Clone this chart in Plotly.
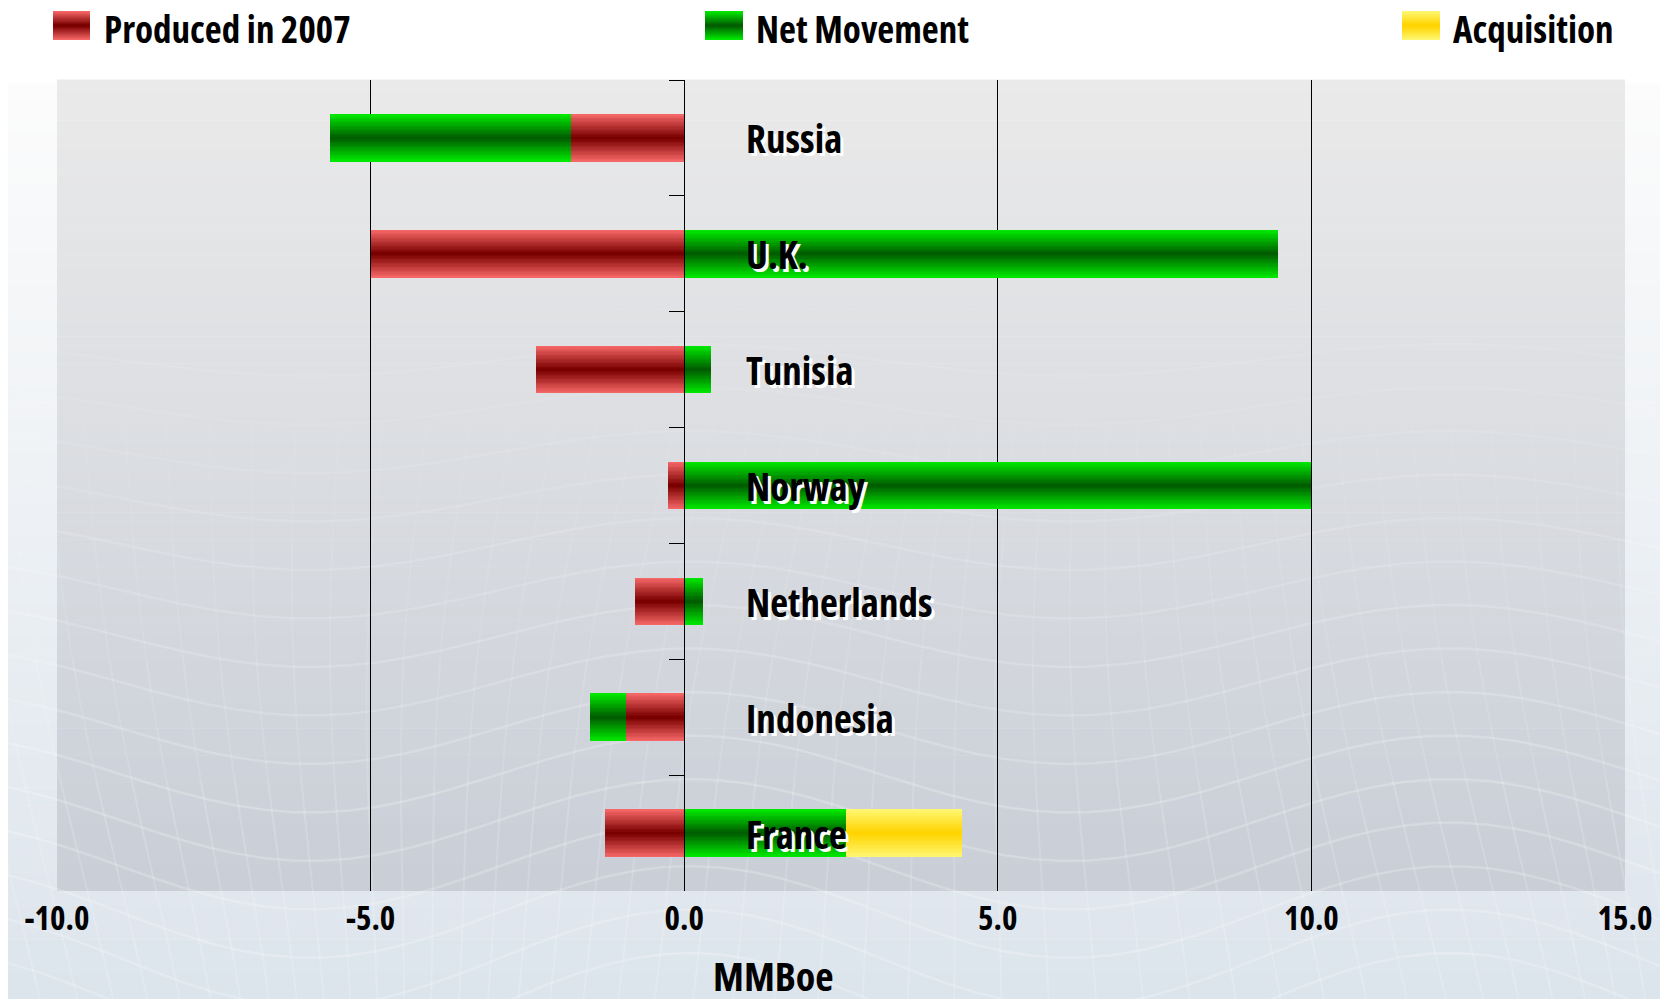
import math
import plotly.graph_objects as go

# ---------------- data ----------------
countries = ["Russia", "U.K.", "Tunisia", "Norway", "Netherlands", "Indonesia", "France"]
produced_2007 = [-1.8, -5.0, -2.36, -0.26, -0.79, -0.93, -1.27]
net_movement = [-3.85, 9.47, 0.43, 10.0, 0.30, -0.57, 2.58]
acquisition = [0, 0, 0, 0, 0, 0, 1.85]
series_names = ["Produced in 2007", "Net Movement", "Acquisition"]
x_ticks = [-10, -5, 0, 5, 10, 15]
x_tick_labels = ["-10.0", "-5.0", "0.0", "5.0", "10.0", "15.0"]
x_title = "MMBoe"

# ---------------- layout geometry (page pixels of the target) ----------------
W, H = 1668, 999
OFF = 8                       # the page body margin shifts the figure by 8px
PLOT_L, PLOT_R, PLOT_T, PLOT_B = 57, 1625, 80, 891
ML, MT = PLOT_L - OFF, PLOT_T - OFF
MR, MB = W - (PLOT_R - OFF), H - (PLOT_B - OFF)
PW, PH = PLOT_R - PLOT_L, PLOT_B - PLOT_T
FONT = "Open Sans"
COND = '<span style="font-stretch:75%%">%s</span>'

edge_center = {
    "Produced in 2007": ((245, 102, 102), (122, 0, 0)),
    "Net Movement": ((0, 232, 0), (0, 94, 0)),
    "Acquisition": ((255, 246, 112), (255, 212, 0)),
}


def lerp(c1, c2, t):
    return "rgb(%d,%d,%d)" % tuple(round(a + (b - a) * t) for a, b in zip(c1, c2))


def px_x(px):
    return (px - PLOT_L) / PW


def px_y(py):
    return (PLOT_B - py) / PH


fig = go.Figure()

# bases derived from the data
base_prod = [0] * len(countries)
base_net = [p if n < 0 else 0 for p, n in zip(produced_2007, net_movement)]
base_acq = [max(n, 0) for n in net_movement]
series_vals = [produced_2007, net_movement, acquisition]
series_base = [base_prod, base_net, base_acq]

BAR_W = 0.41
N = 18
for name, vals, base in zip(series_names, series_vals, series_base):
    c_edge, c_mid = edge_center[name]
    for k in range(N):
        t = k / (N - 1)
        fig.add_trace(go.Bar(
            y=countries, x=vals, base=base, orientation="h",
            width=BAR_W * (1 - k / N),
            marker=dict(color=lerp(c_edge, c_mid, t), line=dict(width=0)),
            name=name, showlegend=False, hoverinfo="skip" if k else "x+name",
        ))

# ---------------- background ----------------
shapes = []
NS = 60
for i in range(NS):
    t0, t1 = i / NS, (i + 1) / NS
    t = (i + 0.5) / NS
    if t < 0.08:
        col = (255, 255, 255)
    else:
        tt = (t - 0.08) / 0.92
        col = tuple(round(a + (b - a) * tt) for a, b in zip((252, 252, 252), (220, 228, 236)))
    shapes.append(dict(type="rect", xref="paper", yref="paper",
                       x0=-0.1, x1=1.1, y0=px_y(t1 * (H + OFF)), y1=px_y(t0 * (H + OFF)) + 0.0005,
                       fillcolor="rgb(%d,%d,%d)" % col, line=dict(width=0), layer="below"))
for i in range(NS):
    t = (i + 0.5) / NS
    col = tuple(round(a + (b - a) * t) for a, b in zip((234, 234, 234), (201, 206, 215)))
    y_top = PLOT_T + PH * i / NS
    y_bot = PLOT_T + PH * (i + 1) / NS
    shapes.append(dict(type="rect", xref="paper", yref="paper",
                       x0=0, x1=1, y0=px_y(y_bot), y1=px_y(y_top) + 0.0005,
                       fillcolor="rgb(%d,%d,%d)" % col, line=dict(width=0), layer="below"))


def fade(yp):
    # mesh opacity grows from the middle of the page towards the bottom
    return max(0.0, min(1.0, (yp - 260) / 600))


# faint decorative wave mesh
for j in range(15):
    y0 = 360 + j * 46
    amp = 16 + j * 2.5
    pts = []
    for s in range(0, 61):
        xp = -20 + s * (W + 40) / 60
        yp = y0 + amp * math.sin(2 * math.pi * (xp - 120) / 760)
        pts.append("%.5f,%.5f" % (px_x(xp), px_y(yp)))
    op = 0.22 * fade(y0 + 80)
    shapes.append(dict(type="path", xref="paper", yref="paper", layer="below",
                       path="M" + " L".join(pts),
                       line=dict(color="rgba(255,255,255,%.3f)" % op, width=2.5)))
for j in range(48):
    xb = -30 + j * 37
    for seg in range(6):
        pts = []
        for s in range(0, 5):
            yp = 300 + seg * 120 + s * 30
            xp = xb + 0.18 * (yp - 650) * math.cos(2 * math.pi * xb / 1400) + 10 * math.sin(yp / 140)
            pts.append("%.5f,%.5f" % (px_x(xp), px_y(yp)))
        op = 0.16 * fade(300 + seg * 120 + 60)
        shapes.append(dict(type="path", xref="paper", yref="paper", layer="below",
                           path="M" + " L".join(pts),
                           line=dict(color="rgba(255,255,255,%.3f)" % op, width=2)))

# ---------------- legend (shapes + text) ----------------
legend_boxes = [(53, 90), (705, 743), (1402, 1440)]
legend_text_x = [102, 754, 1451]
annotations = []
LB_T, LB_B = 11, 40
for name, (bx0, bx1), tx in zip(series_names, legend_boxes, legend_text_x):
    c_edge, c_mid = edge_center[name]
    M = 12
    for k in range(M):
        t = k / (M - 1)
        half = (LB_B - LB_T) / 2 * (1 - k / M)
        cy = (LB_T + LB_B) / 2
        shapes.append(dict(type="rect", xref="paper", yref="paper",
                           x0=px_x(bx0), x1=px_x(bx1), y0=px_y(cy + half), y1=px_y(cy - half),
                           fillcolor=lerp(c_edge, c_mid, t), line=dict(width=0), layer="above"))
    annotations.append(dict(text=COND % name, xref="paper", yref="paper", x=px_x(tx), y=px_y(28),
                            xanchor="left", yanchor="middle", showarrow=False,
                            font=dict(family=FONT, size=37, color="black", weight="bold")))

# category labels inside the plot
for c in countries:
    annotations.append(dict(text=COND % c, xref="x", yref="y", x=0.95, y=c,
                            xanchor="left", yanchor="middle", showarrow=False,
                            font=dict(family=FONT, size=39, color="black", weight="bold",
                                      shadow="3px 3px 0px #ffffff")))

annotations.append(dict(text=COND % x_title, xref="paper", yref="paper", x=px_x(773), y=px_y(976),
                        xanchor="center", yanchor="middle", showarrow=False,
                        font=dict(family=FONT, size=40, color="black", weight="bold")))

fig.update_layout(
    width=W, height=H,
    margin=dict(l=ML, r=MR, t=MT, b=MB, pad=0),
    paper_bgcolor="white", plot_bgcolor="rgba(0,0,0,0)",
    barmode="overlay", bargap=0,
    showlegend=False,
    shapes=shapes, annotations=annotations,
    xaxis=dict(range=[-10, 15], tickvals=x_ticks, ticktext=[COND % s for s in x_tick_labels],
               showgrid=True, gridcolor="black", gridwidth=1, zeroline=False,
               showline=False, ticks="",
               tickfont=dict(family=FONT, size=33, color="black", weight="bold"),
               ticklabelstandoff=5),
    yaxis=dict(categoryorder="array", categoryarray=countries, range=[6.5, -0.5],
               anchor="free", position=0.4, showline=True, linecolor="black", linewidth=1,
               ticks="outside", ticklen=15, tickcolor="black", tickwidth=1, tickson="boundaries",
               showgrid=False, zeroline=False, showticklabels=False),
)

fig.write_html("out.html")
